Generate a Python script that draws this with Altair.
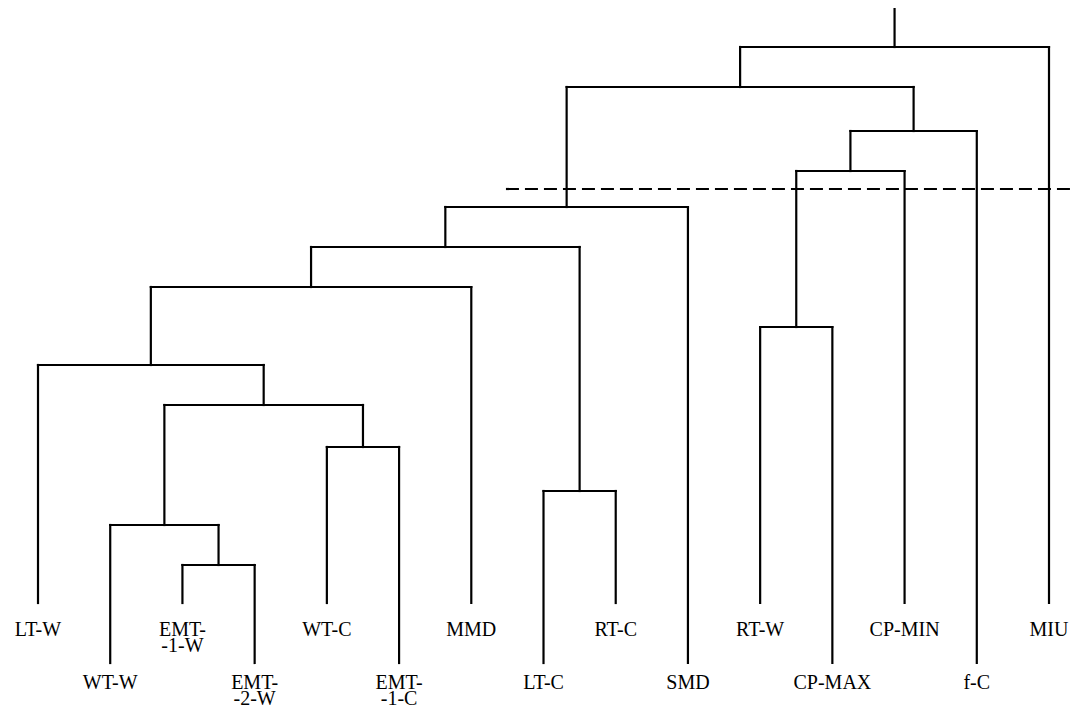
import altair as alt
import pandas as pd

# Leaves (left to right) and which label row they sit on (0 = upper, 1 = lower)
leaf_labels = ["LT-W", "WT-W", "EMT-\n-1-W", "EMT-\n-2-W", "WT-C", "EMT-\n-1-C", "MMD",
               "LT-C", "RT-C", "SMD", "RT-W", "CP-MAX", "CP-MIN", "f-C", "MIU"]
leaf_rows = [0, 1, 0, 1, 0, 1, 0, 1, 0, 1, 0, 1, 0, 1, 0]

# Linkage: (left child, right child, merge distance); new nodes numbered from 15
merge_left = [2, 1, 7, 4, 16, 0, 10, 20, 22, 23, 21, 25, 24, 27]
merge_right = [3, 15, 8, 5, 18, 19, 11, 6, 17, 9, 12, 13, 26, 14]
merge_height = [1.9, 3.9, 5.6, 7.8, 9.9, 11.9, 13.8, 15.8, 17.8, 19.8, 21.6, 23.6, 25.8, 27.8]
root_top = 29.8
cut_height = 20.7
leaf_base = [0.0, -3.0]           # leaf tip distance for upper/lower row
label_pos = [-1.65, -4.3]         # label baseline for upper/lower row

# ---- build segments from the tree ----
n = len(leaf_labels)
node_x = {i: float(i) for i in range(n)}
node_h = {i: leaf_base[leaf_rows[i]] for i in range(n)}
segs = []
for k, (a, b, h) in enumerate(zip(merge_left, merge_right, merge_height)):
    nid = n + k
    segs.append(dict(x=node_x[a], x2=node_x[b], y=h, y2=h))
    segs.append(dict(x=node_x[a], x2=node_x[a], y=node_h[a], y2=h))
    segs.append(dict(x=node_x[b], x2=node_x[b], y=node_h[b], y2=h))
    node_x[nid] = (node_x[a] + node_x[b]) / 2
    node_h[nid] = h
root = n + len(merge_height) - 1
segs.append(dict(x=node_x[root], x2=node_x[root], y=node_h[root], y2=root_top))
seg_df = pd.DataFrame(segs)

lab_df = pd.DataFrame({"x": list(range(n)), "label": leaf_labels,
                       "y": [label_pos[r] for r in leaf_rows]})
cut_df = pd.DataFrame({"x": [6.48], "x2": [14.36], "y": [cut_height]})

xs = alt.Scale(domain=[-0.4155, 14.36], nice=False, zero=False)
ys = alt.Scale(domain=[-5.35, 29.75], nice=False, zero=False)

lines = alt.Chart(seg_df).mark_rule(color="black", strokeWidth=2.2, strokeCap="square").encode(
    x=alt.X("x:Q", scale=xs, axis=None),
    x2="x2:Q",
    y=alt.Y("y:Q", scale=ys, axis=None),
    y2="y2:Q",
)

cut = alt.Chart(cut_df).mark_rule(color="black", strokeWidth=2.2, strokeDash=[13, 6], clip=False).encode(
    x=alt.X("x:Q", scale=xs, axis=None),
    x2="x2:Q",
    y=alt.Y("y:Q", scale=ys, axis=None),
)

labels = alt.Chart(lab_df).mark_text(
    font="'Liberation Serif', 'Times New Roman', 'DejaVu Serif', serif", fontSize=20,
    color="black", align="center", baseline="alphabetic", lineBreak="\n", lineHeight=16,
).encode(
    x=alt.X("x:Q", scale=xs, axis=None),
    y=alt.Y("y:Q", scale=ys, axis=None),
    text="label:N",
)

chart = alt.layer(lines, cut, labels).properties(
    width=1067, height=702, padding=0, autosize=alt.AutoSizeParams(type="none"),
    background="white",
).configure_view(stroke=None)

chart.save("out.html", embed_options={"renderer": "svg", "actions": False})
